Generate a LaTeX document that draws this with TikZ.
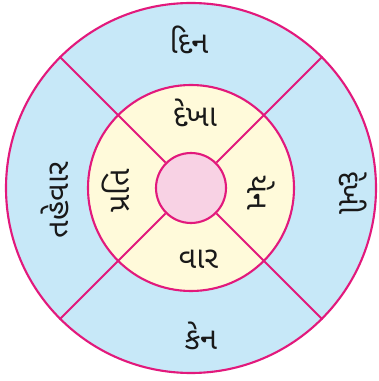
\documentclass[tikz,border=0pt]{standalone}
\usepackage{fontspec}
\newfontfamily\gujfont[Script=Gujarati]{Noto Sans Gujarati UI}
\usetikzlibrary{positioning}

\definecolor{ringline}{HTML}{E2197C}
\definecolor{outerblue}{HTML}{C7E8F8}
\definecolor{midyellow}{HTML}{FFFADA}
\definecolor{centrepink}{HTML}{F8D2E4}

\tikzset{
    ring/.style={circle, draw=ringline, line width=1.2pt, inner sep=0pt},
    spoke/.style={draw=ringline, line width=1.2pt},
    word/.style={font=\gujfont\fontsize{17.5}{20}\selectfont, text=black!90, inner sep=1pt}
}

\begin{document}
\begin{tikzpicture}
    \useasboundingbox (-3.82,-3.86) rectangle (3.74,3.76);
    % rings
    \node[ring, fill=outerblue, minimum size=7.4cm] (O) at (0,0) {};
    \node[ring, fill=midyellow, minimum size=4.12cm] (M) at (0,0) {};
    \node[ring, fill=centrepink, minimum size=1.4cm] (C) at (0,0) {};
    % spokes
    \foreach \a in {45,135,225,315}
        \draw[spoke] (C.\a) -- (O.\a);
    % inner words
    \node[word] (dekha) at (0.08,1.5) {દેખા};
    \node[word] (vaar) at (0.15,-1.42) {વાર};
    \node[word, rotate=90] (prati) at (-1.5,-0.06) {પ્રતિ};
    \node[word, rotate=-90] (yen) at (1.4,-0.1) {યેન};
    % outer words
    \node[word] (din) at (-0.04,2.96) {દિન};
    \node[word] (ken) at (0.2,-2.96) {કેન};
    \node[word, rotate=90] (tahevar) at (-2.72,-0.24) {તહેવાર};
    \node[word, rotate=-90] (dekhi) at (3.24,-0.1) {દેખી};
\end{tikzpicture}
\end{document}
